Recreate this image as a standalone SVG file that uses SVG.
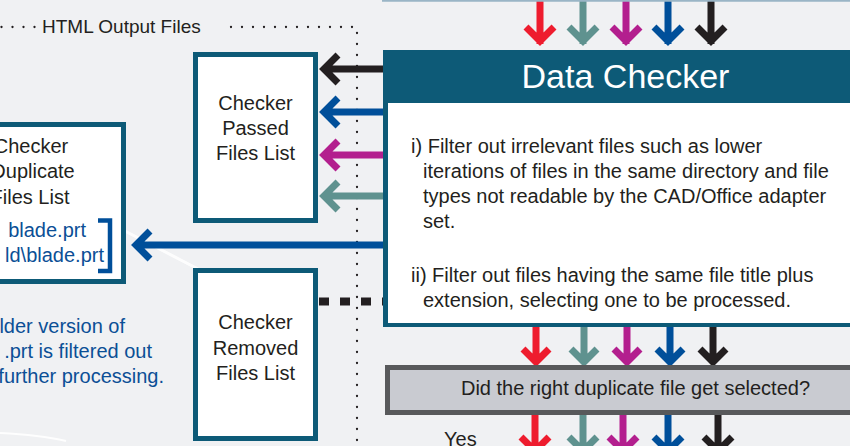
<svg xmlns="http://www.w3.org/2000/svg" width="850" height="446" viewBox="0 0 850 446">
<defs>
<style>
text{font-family:"Liberation Sans",Arial,sans-serif;}
.lbl{font-size:20px;fill:#231f20;text-anchor:middle;}
.body{font-size:20px;fill:#231f20;}
.blue{font-size:20px;fill:#0b4f96;}
.box{fill:#ffffff;stroke:#0d5a77;stroke-width:5;}
.arr{fill:none;stroke-width:7;stroke-linejoin:miter;stroke-miterlimit:10;}
.red{stroke:#ee1c2e;}.teal{stroke:#5f928f;}.mag{stroke:#b31f8e;}.blu{stroke:#004f9a;}.blk{stroke:#231f20;}
</style>
</defs>
<rect x="0" y="0" width="850" height="446" fill="#f0f1f3"/>
<line x1="98" y1="217" x2="200" y2="270" stroke="#ffffff" stroke-width="3" opacity="0.9"/>
<path d="M0 433 Q40 435 66 441" fill="none" stroke="#ffffff" stroke-width="2" opacity="0.9"/>

<g id="frame-html">
<path d="M1.5 27 H40 M231 27 H357 V446" fill="none" stroke="#231f20" stroke-width="2.3" stroke-linecap="round" stroke-dasharray="0 11"/>
<text x="42" y="33" style="font-size:19px;fill:#231f20">HTML Output Files</text>
</g>

<g id="connectors">
<!-- top arrows into Data Checker -->
<path class="arr red" d="M540 -2 V44 M526 27 L540 41 L554 27"/>
<path class="arr teal" d="M583 -2 V44 M569 27 L583 41 L597 27"/>
<path class="arr mag" d="M626 -2 V44 M612 27 L626 41 L640 27"/>
<path class="arr blu" d="M668 -2 V44 M654 27 L668 41 L682 27"/>
<path class="arr blk" d="M711 -2 V44 M697 27 L711 41 L725 27"/>
<!-- left arrows to Passed list -->
<path class="arr blk" d="M385 69 H324 M338 55 L324 69 L338 83"/>
<path class="arr blu" d="M385 112 H324 M338 98 L324 112 L338 126"/>
<path class="arr mag" d="M385 155 H324 M338 141 L324 155 L338 169"/>
<path class="arr teal" d="M385 196 H324 M338 182 L324 196 L338 210"/>
<!-- long blue arrow to Duplicate list -->
<path class="arr blu" d="M385 245 H136 M150 231 L136 245 L150 259"/>
<!-- dashed to Removed list -->
<path d="M319 301.5 H383" fill="none" stroke="#231f20" stroke-width="8" stroke-dasharray="10 11"/>
<!-- arrows Data Checker to question -->
<path class="arr red" d="M536 325 V362 M523 349 L536 362 L549 349"/>
<path class="arr teal" d="M584 325 V362 M571 349 L584 362 L597 349"/>
<path class="arr mag" d="M627 325 V362 M614 349 L627 362 L640 349"/>
<path class="arr blu" d="M670 325 V362 M657 349 L670 362 L683 349"/>
<path class="arr blk" d="M713 325 V362 M700 349 L713 362 L726 349"/>
<!-- arrows below question -->
<path class="arr red" d="M535 413 V452 M521 437 L535 451 L549 437"/>
<path class="arr teal" d="M583 413 V452 M569 437 L583 451 L597 437"/>
<path class="arr mag" d="M623 413 V452 M609 437 L623 451 L637 437"/>
<path class="arr blu" d="M668 413 V452 M654 437 L668 451 L682 437"/>
<path class="arr blk" d="M718 413 V452 M704 437 L718 451 L732 437"/>
</g>

<g id="top-edge">
<line x1="382" y1="0.8" x2="850" y2="0.8" stroke="#9ab5c6" stroke-width="2"/>
</g>

<g id="data-checker">
<rect x="383" y="50" width="480" height="277" fill="#0d5a77"/>
<rect x="388" y="103" width="480" height="220" fill="#ffffff"/>
<text x="625.5" y="88" style="font-size:34px;fill:#ffffff;text-anchor:middle">Data Checker</text>
<text class="body" x="411" y="153">i) Filter out irrelevant files such as lower</text>
<text class="body" x="423" y="178">iterations of files in the same directory and file</text>
<text class="body" x="423" y="203">types not readable by the CAD/Office adapter</text>
<text class="body" x="423" y="228">set.</text>
<text class="body" x="411" y="282">ii) Filter out files having the same file title plus</text>
<text class="body" x="423" y="307">extension, selecting one to be processed.</text>
</g>

<g id="passed-list">
<rect class="box" x="195.5" y="54.5" width="120" height="166"/>
<text class="lbl" x="255.5" y="110">Checker</text>
<text class="lbl" x="255.5" y="135">Passed</text>
<text class="lbl" x="255.5" y="160">Files List</text>
</g>

<g id="removed-list">
<rect class="box" x="195.5" y="270.5" width="120" height="168"/>
<text class="lbl" x="255.5" y="329">Checker</text>
<text class="lbl" x="255.5" y="355">Removed</text>
<text class="lbl" x="255.5" y="380">Files List</text>
</g>

<g id="duplicate-list">
<rect class="box" x="-10" y="124.5" width="133.5" height="157"/>
<text class="lbl" x="31" y="153">Checker</text>
<text class="lbl" x="33" y="178">Duplicate</text>
<text class="lbl" x="30" y="204">Files List</text>
<text class="blue" x="86" y="237" text-anchor="end">blade.prt</text>
<text class="blue" x="104" y="262" text-anchor="end">ld\blade.prt</text>
<path d="M98 220.5 H110 V271 H98" fill="none" stroke="#004f9a" stroke-width="4.5"/>
</g>

<g id="note">
<text class="blue" x="125" y="333" text-anchor="end">lder version of</text>
<text class="blue" x="152" y="358" text-anchor="end">.prt is filtered out</text>
<text class="blue" x="164" y="383" text-anchor="end">further processing.</text>
</g>

<g id="question">
<rect x="387.5" y="367.5" width="470" height="45" fill="#c9cbd1" stroke="#58595b" stroke-width="5"/>
<text x="635.5" y="395" style="font-size:20px;fill:#231f20;text-anchor:middle">Did the right duplicate file get selected?</text>
</g>

<g id="yes-label">
<text x="444" y="446" style="font-size:20px;fill:#231f20">Yes</text>
</g>
</svg>
